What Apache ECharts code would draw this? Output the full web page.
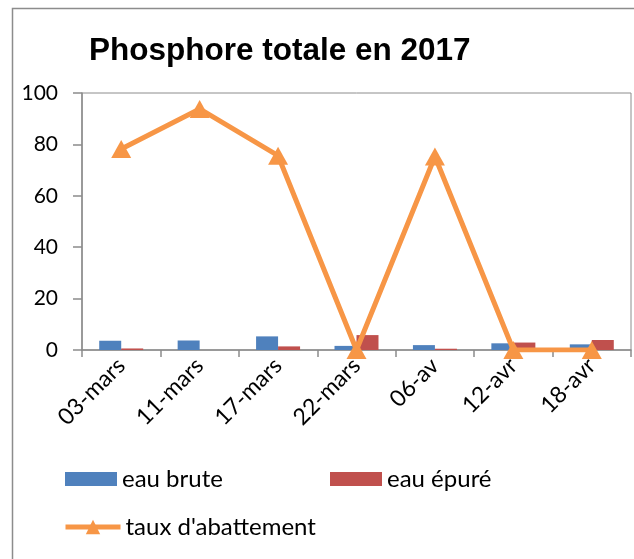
<!DOCTYPE html>
<html>
<head>
<meta charset="utf-8">
<script src="https://cdn.jsdelivr.net/npm/echarts@6/dist/echarts.min.js"></script>
<style>
  html, body { margin: 0; padding: 0; background: #fff; }
  #chart { width: 634px; height: 559px; }
</style>
</head>
<body>
<div id="chart"></div>
<script>
var dates = ['03-mars', '11-mars', '17-mars', '22-mars', '06-av', '12-avr', '18-avr'];
var eauBrute = [3.6, 3.7, 5.3, 1.6, 1.9, 2.6, 2.2];
var eauEpure = [0.6, 0, 1.4, 5.8, 0.5, 2.9, 3.9];
var tauxAbattement = [78.2, 93.8, 75.6, 0, 75.3, 0, 0];
var yTicks = [0, 20, 40, 60, 80, 100];

var chart = echarts.init(document.getElementById('chart'));

var labelFont = 'Lato, "Open Sans", sans-serif';
var legendText = { fontFamily: labelFont, fontSize: 24, color: '#000' };

var option = {
  animation: false,
  color: ['#4F81BD', '#C0504D', '#F79646'],
  title: {
    text: 'Phosphore totale en 2017',
    left: 84,
    top: 30,
    textStyle: {
      fontFamily: '"Liberation Sans", Arial, sans-serif',
      fontWeight: 'bold',
      fontSize: 31.5,
      color: '#000'
    }
  },
  graphic: [{
    type: 'rect',
    shape: { x: 12.5, y: 8.5, width: 700, height: 700 },
    style: { fill: 'none', stroke: '#8c8c8c', lineWidth: 1.5 },
    silent: true
  }],
  legend: [{
    data: ['eau brute'],
    left: 60, top: 462,
    icon: 'rect',
    itemWidth: 52, itemHeight: 14,
    textStyle: legendText
  }, {
    data: ['eau épuré'],
    left: 325, top: 462,
    icon: 'rect',
    itemWidth: 52, itemHeight: 14,
    textStyle: legendText
  }, {
    data: ["taux d'abattement"],
    left: 58, top: 510,
    itemWidth: 55, itemHeight: 18,
    lineStyle: { width: 5 },
    textStyle: legendText
  }],
  grid: {
    left: 82,
    right: 3,
    top: 93,
    bottom: 209,
    show: true,
    borderColor: '#8c8c8c',
    borderWidth: 1
  },
  xAxis: {
    type: 'category',
    data: dates,
    axisLine: { lineStyle: { color: '#8c8c8c', width: 1.5 } },
    axisTick: { show: true, length: 7, lineStyle: { color: '#8c8c8c', width: 1.5 } },
    axisLabel: {
      rotate: 45,
      margin: 12,
      fontFamily: labelFont,
      fontSize: 23,
      color: '#000'
    }
  },
  yAxis: {
    type: 'value',
    min: 0,
    max: 100,
    interval: 20,
    axisLine: { show: true, lineStyle: { color: '#8c8c8c', width: 1.5 } },
    axisTick: { show: true, length: 9, lineStyle: { color: '#8c8c8c', width: 1.5 } },
    splitLine: { show: false },
    axisLabel: {
      margin: 24,
      fontFamily: labelFont,
      fontSize: 21,
      color: '#000',
      formatter: function (v) { return yTicks.indexOf(v) >= 0 ? String(v) : ''; }
    }
  },
  series: [{
    name: 'eau brute',
    type: 'bar',
    data: eauBrute,
    barWidth: 22,
    barGap: '0%'
  }, {
    name: 'eau épuré',
    type: 'bar',
    data: eauEpure,
    barWidth: 22,
    barGap: '0%'
  }, {
    name: "taux d'abattement",
    type: 'line',
    data: tauxAbattement,
    symbol: 'triangle',
    symbolSize: [20, 18],
    z: 5,
    lineStyle: { width: 5, color: '#F79646' },
    itemStyle: { color: '#F79646' }
  }]
};

chart.setOption(option);
</script>
</body>
</html>
